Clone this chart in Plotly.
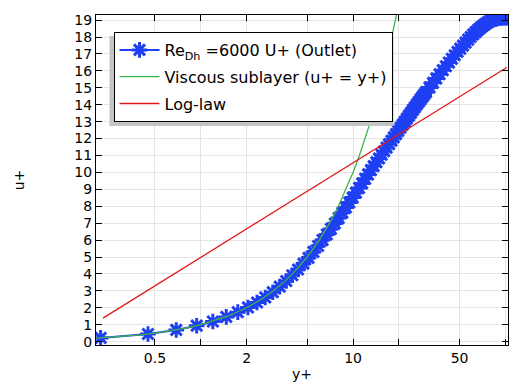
import plotly.graph_objects as go

# Re_Dh = 6000, outlet profile (markers)
yplus = [0.22, 0.45, 0.69, 0.94, 1.20, 1.47, 1.75, 2.04, 2.34, 2.65, 2.97, 3.30, 3.64, 3.99,
         4.35, 4.72, 5.10, 5.49, 5.89, 6.30, 6.72, 7.15, 7.59, 8.04, 8.50, 8.97, 9.45, 9.94,
         10.44, 10.95, 11.47, 12.00, 12.54, 13.09, 13.65, 14.22, 14.80, 15.39, 15.99, 16.60,
         17.22, 17.85, 18.49, 19.14, 19.80, 20.47, 21.15, 21.84, 22.54, 23.25, 23.97, 24.70,
         25.44, 26.19, 26.95, 27.72, 28.50, 29.29, 30.09, 31.75, 33.45, 35.19, 36.97, 38.79,
         40.65, 42.55, 44.49, 46.47, 48.49, 50.55, 52.65, 54.79, 56.97, 59.19, 61.45, 63.75,
         66.09, 68.47, 70.89, 73.35, 75.85, 78.39, 80.97, 83.59, 86.25, 88.95, 91.69, 94.47,
         97.29, 100.15, 103.05]
uplus = [0.22, 0.45, 0.69, 0.94, 1.19, 1.46, 1.74, 2.02, 2.31, 2.61, 2.92, 3.25, 3.58, 3.92,
         4.26, 4.61, 4.95, 5.30, 5.65, 6.00, 6.33, 6.66, 6.98, 7.30, 7.62, 7.93, 8.22, 8.51,
         8.80, 9.08, 9.35, 9.62, 9.88, 10.13, 10.37, 10.60, 10.82, 11.04, 11.25, 11.46,
         11.67, 11.87, 12.07, 12.26, 12.45, 12.64, 12.82, 13.00, 13.18, 13.35, 13.52, 13.69,
         13.85, 14.01, 14.16, 14.31, 14.46, 14.60, 14.74, 15.02, 15.29, 15.55, 15.80, 16.04,
         16.27, 16.49, 16.71, 16.92, 17.12, 17.31, 17.49, 17.67, 17.84, 18.00, 18.15, 18.29,
         18.42, 18.54, 18.65, 18.75, 18.84, 18.92, 18.98, 19.03, 19.07, 19.10, 19.12, 19.13,
         19.14, 19.14, 19.14]

# Viscous sublayer u+ = y+
visc_yplus = [0.2, 0.25, 0.3, 0.4, 0.5, 0.6, 0.8, 1.0, 1.25, 1.5, 2.0, 2.5, 3.0, 3.5, 4.0, 5.0,
              6.0, 7.0, 8.0, 9.0, 10.0, 11.0, 12.0, 13.0, 14.0, 15.0, 16.0, 17.0, 18.0, 19.0, 20.0]
visc_uplus = [0.2, 0.25, 0.3, 0.4, 0.5, 0.6, 0.8, 1.0, 1.25, 1.5, 2.0, 2.5, 3.0, 3.5, 4.0, 5.0,
              6.0, 7.0, 8.0, 9.0, 10.0, 11.0, 12.0, 13.0, 14.0, 15.0, 16.0, 17.0, 18.0, 19.0, 20.0]

# Log-law (straight line on the log axis)
log_yplus = [0.228, 102.0]
log_uplus = [1.39, 16.2]

xtick_major = [0.5, 2, 10, 50]
xtick_minor = [1, 5, 20, 100]
ytick_vals = list(range(0, 20))

BLUE = "#1f3ff2"
GREEN = "#3cb44b"
RED = "#e01919"
FONT = "DejaVu Sans"

fig = go.Figure()
fig.add_trace(go.Scatter(
    x=yplus, y=uplus, mode="lines+markers",
    name="Re<sub>Dh</sub> =6000 U+ (Outlet)",
    line=dict(color=BLUE, width=2),
    marker=dict(symbol="asterisk-open", size=13, color=BLUE, line=dict(color=BLUE, width=3)),
    legendgroup="a",
))
fig.add_trace(go.Scatter(
    x=visc_yplus, y=visc_uplus, mode="lines",
    name="Viscous sublayer (u+ = y+)",
    line=dict(color=GREEN, width=1.3),
    legendgroup="b",
))
fig.add_trace(go.Scatter(
    x=log_yplus, y=log_uplus, mode="lines",
    name="Log-law",
    line=dict(color=RED, width=1.3),
    legendgroup="c",
))

L, R, T, B = 96, 4, 15, 40
W, H = 512, 385
pw, ph = W - L - R, H - T - B

def px2paper(x, y):
    return (x - L) / pw, (H - B - y) / ph

sx0, sy0 = px2paper(109.5, 126)
sx1, sy1 = px2paper(393.5, 36)
fig.add_shape(type="rect", xref="paper", yref="paper", x0=sx0, x1=sx1, y0=sy0, y1=sy1,
              fillcolor="#c4c4c4", line=dict(width=0), layer="above")

lx, ly = px2paper(113.5, 32)

grid = "#e4e4e4"
fig.update_layout(
    width=W, height=H,
    margin=dict(l=L, r=R, t=T, b=B),
    paper_bgcolor="white", plot_bgcolor="white",
    font=dict(family=FONT, size=14, color="black"),
    showlegend=True,
    legend=dict(x=lx, y=ly, xanchor="left", yanchor="top",
                bgcolor="white", bordercolor="black", borderwidth=1,
                font=dict(family=FONT, size=16, color="black"),
                itemwidth=40,
                traceorder="grouped", tracegroupgap=3),
    xaxis=dict(type="log", range=[-0.688, 2.017],
               tickmode="array", tickvals=xtick_major,
               ticks="inside", ticklen=6, tickcolor="black",
               minor=dict(tickmode="array", tickvals=xtick_minor, ticks="inside", ticklen=6,
                          tickcolor="black", showgrid=True, gridcolor=grid, gridwidth=1),
               showline=True, linecolor="black", linewidth=1, mirror="ticks",
               showgrid=True, gridcolor=grid, gridwidth=1, zeroline=False,
               tickfont=dict(family=FONT, size=14),
               title=dict(text="y+", font=dict(family=FONT, size=14), standoff=4)),
    yaxis=dict(range=[-0.2, 19.3],
               tickmode="array", tickvals=ytick_vals,
               ticks="inside", ticklen=6, tickcolor="black",
               showline=True, linecolor="black", linewidth=1, mirror="ticks",
               showgrid=True, gridcolor=grid, gridwidth=1, zeroline=False,
               tickfont=dict(family=FONT, size=14),
               title=dict(text="u+", font=dict(family=FONT, size=14), standoff=46)),
)

fig.write_html("out.html")
